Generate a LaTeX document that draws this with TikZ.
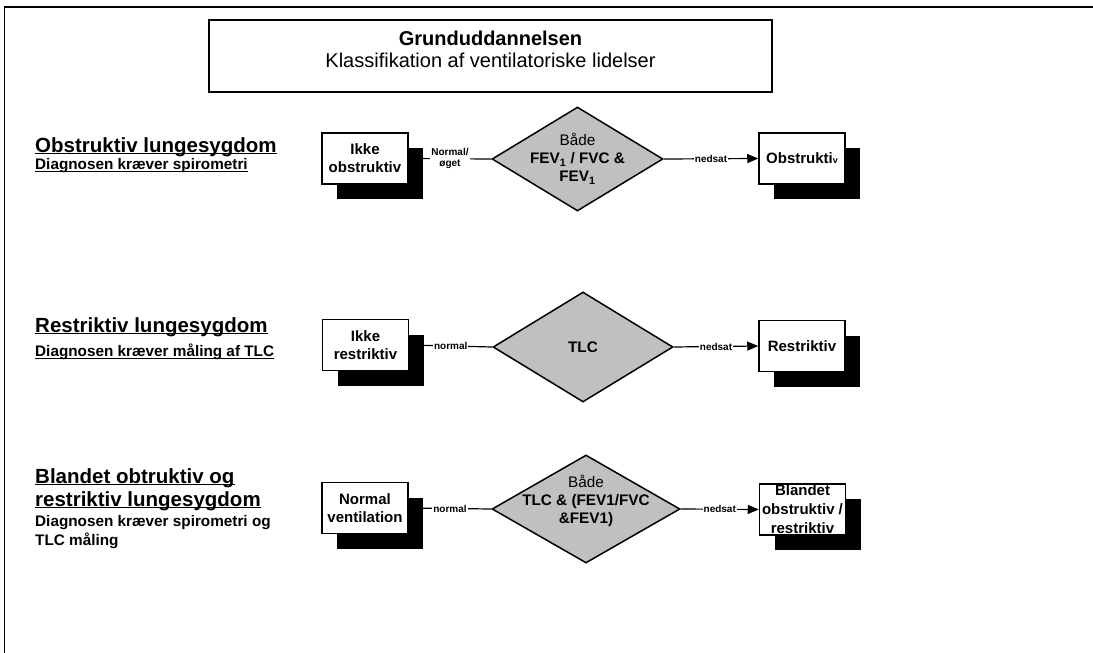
\documentclass[tikz,border=0pt]{standalone}
\usepackage{fontspec}
\setmainfont{Liberation Sans}
\usepackage{xcolor}
\usetikzlibrary{shapes.geometric,shadows,arrows.meta}
\definecolor{diafill}{RGB}{192,192,192}
\newcommand\undl[1]{\setbox0\hbox{#1}\rlap{\rule[-2.2pt]{\wd0}{1.2pt}}\box0}

\begin{document}
\begin{tikzpicture}[x=1pt,y=-1pt,
		every node/.style={inner sep=0pt},
		big/.style={anchor=west,font=\fontsize{20.5}{24}\selectfont\bfseries},
		small/.style={anchor=west,font=\fontsize{15.3}{18}\selectfont\bfseries},
		box/.style={draw,fill=white,line width=1.5pt,minimum width=86pt,minimum height=51pt,
			drop shadow={shadow xshift=15pt,shadow yshift=-15pt,opacity=1,fill=black}},
		boxtext/.style={align=center,font=\fontsize{15}{18}\selectfont\bfseries},
		test/.style={diamond,draw,fill=diafill,line width=1.5pt},
		testtext/.style={align=center,font=\fontsize{15.3}{18}\selectfont},
		lbl/.style={fill=white,align=center,inner sep=1pt,font=\fontsize{10}{11}\selectfont\bfseries},
		arr/.style={-{Triangle[length=11pt,width=9pt]}}]
			\useasboundingbox (0,0) rectangle (1093,653);
			\draw[line width=2pt] (4,7) -- (1093,7);
			\draw[line width=1pt] (4.5,7) -- (4.5,653);
			\node[draw,line width=1.5pt,minimum width=563pt,minimum height=72pt] (title) at (490.5,56) {};
			\node[align=center,font=\fontsize{20}{22}\selectfont] (titletxt) at (title.center) [yshift=7pt]
				{\textbf{Grunduddannelsen}\\Klassifikation af ventilatoriske lidelser};
			\node[big] (h1) at (35,147) {\undl{Obstruktiv lungesygdom}};
			\node[small] (h1s) at (35,166) {\undl{Diagnosen kræver spirometri}};
			\node[big] (h2) at (35,327) {\undl{Restriktiv lungesygdom}};
			\node[small] (h2s) at (35,352) {\undl{Diagnosen kræver måling af TLC}};
			\node[big] (h3) at (35,478) {\undl{Blandet obtruktiv og}};
			\node[big] (h3b) at (35,501) {\undl{restriktiv lungesygdom}};
			\node[small] (h3s) at (35,523) {Diagnosen kræver spirometri og};
			\node[small] (h3t) at (35,541) {TLC måling};
			\node[box] (ikkeobs) at (365,158.5) {};
			\node[boxtext] at (ikkeobs) {Ikke\\obstruktiv};
			\node[test,minimum width=171pt,minimum height=104pt] (spiro) at (577.5,159) {};
			\node[testtext] (spirotxt) at (spiro) {Både\\\textbf{FEV\textsubscript{1} / FVC \&}\\\textbf{FEV\textsubscript{1}}};
			\node[box] (obs) at (802,158.5) {};
			\node[boxtext] (obstxt) at (obs) {Obstrukti{\fontsize{9}{9}\selectfont v}};
			\draw[line width=1.2pt] (spiro.west) -- node[lbl] {Normal/\\øget} (ikkeobs.east);
			\draw[line width=1.2pt,arr] (spiro.east) -- node[lbl] {nedsat} (obs.west);
			\node[box] (ikkeres) at (365.5,345) {};
			\node[boxtext] (ikkerestxt) at (ikkeres) {Ikke\\restriktiv};
			\node[test,minimum width=180pt,minimum height=110pt] (tlc) at (583,347) {};
			\node[testtext,font=\fontsize{15.3}{18}\selectfont\bfseries] (tlctxt) at (tlc) {TLC};
			\node[box] (res) at (802,346) {};
			\node[boxtext] (restxt) at (res) {Restriktiv};
			\draw[line width=1.2pt] (tlc.west) -- node[lbl] {normal} (ikkeres.east);
			\draw[line width=1.2pt,arr] (tlc.east) -- node[lbl] {nedsat} (res.west);
			\node[box] (normvent) at (365,508) {};
			\node[boxtext] (normventtxt) at (normvent) {Normal\\ventilation};
			\node[test,minimum width=188pt,minimum height=108pt] (both) at (586,509) {};
			\node[testtext] (bothtxt) at (586,501) {Både\\\textbf{TLC \& (FEV1/FVC}\\\textbf{\&FEV1)}};
			\node[box] (mix) at (802.5,509.5) {};
			\node[boxtext,font=\fontsize{15}{19}\selectfont\bfseries] (mixtxt) at (mix) {Blandet\\obstruktiv /\\restriktiv};
			\draw[line width=1.2pt] (both.west) -- node[lbl] {normal} (normvent.east);
			\draw[line width=1.2pt,arr] (both.east) -- node[lbl] {nedsat} (mix.west);
		\end{tikzpicture}
\end{document}
